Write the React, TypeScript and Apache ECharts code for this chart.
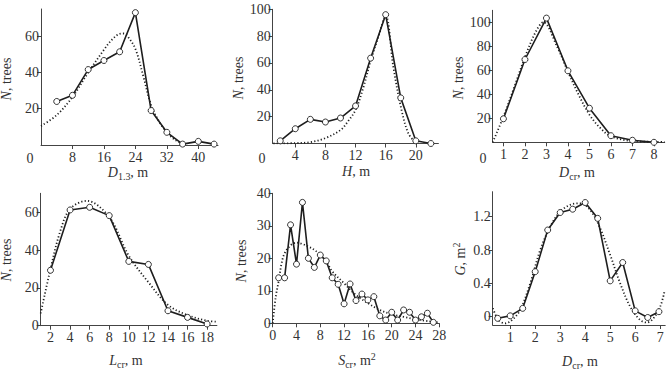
import React, { useEffect, useRef } from "react";
import * as echarts from "echarts";

// Stem diameter D1.3
const d13X = [4, 8, 12, 16, 20, 24, 28, 32, 36, 40, 44];
const d13N = [24, 27.4, 41.6, 46.6, 51.4, 73, 19, 7, 0.5, 2, 0.5];
const d13FitX = [0, 4, 8, 12, 16, 18, 20, 21, 22, 24, 26, 28, 30, 32, 34, 36];
const d13FitN = [10.5, 16.5, 26.5, 40, 52.5, 58, 61.3, 61.5, 60, 53, 38, 22, 13, 7, 3, 0.5];

// Tree height H
const hX = [2, 4, 6, 8, 10, 12, 14, 16, 18, 20, 22];
const hN = [2, 11, 18, 16, 19, 28, 63.6, 96, 34, 2, 0];
const hFitX = [1.1, 4, 6, 8, 10, 11, 12, 13, 14, 15, 16, 17, 18, 19, 20];
const hFitN = [0, 0.3, 1, 4, 10, 16.5, 25, 41, 61.5, 79, 95, 57.6, 27.6, 7.6, 0.6];

// Crown diameter Dcr (counts)
const dcrX = [1, 2, 3, 4, 5, 6, 7, 8];
const dcrN = [19.6, 69, 103.5, 59.6, 28.4, 5.5, 1.7, 0];
const dcrFitX = [0.5, 1, 1.5, 2, 2.5, 2.85, 3.5, 4, 4.5, 5, 5.5, 6, 7, 8.5];
const dcrFitN = [0, 21.5, 45.8, 71, 92, 100, 79.5, 58.8, 39.5, 23, 12, 5, 1, 0.3];

// Crown length Lcr
const lcrX = [2, 4, 6, 8, 10, 12, 14, 16, 18];
const lcrN = [29.3, 61.2, 62.6, 58.2, 34, 32.4, 7.9, 4.4, 0.9];
const lcrFitX = [1, 2, 3, 4, 5.7, 8, 10, 12, 14, 16, 18, 19];
const lcrFitN = [6.5, 30, 50, 61.7, 66, 57.4, 37, 23, 11, 5.6, 2.6, 2.1];

// Crown projection area Scr
const scrX = [1, 2, 3, 4, 5, 6, 7, 8, 9, 10, 11, 12, 13, 14, 15, 16, 17, 18, 19, 20, 21, 22, 23, 24, 25, 26, 27];
const scrN = [14, 14, 30.3, 18.2, 37.2, 20, 17.2, 21, 19.2, 14, 12, 6, 12.1, 7, 9, 7.2, 8.2, 2.3, 1, 3.4, 1, 4.1, 3.4, 1, 2, 3.1, 0.3];
const scrFitX = [0, 0.5, 1, 1.5, 2, 3, 4, 5, 6, 7, 8, 9, 10, 12, 14, 16, 18, 20, 22, 24, 26, 28];
const scrFitN = [0, 8, 13, 18.5, 21.5, 24, 24.8, 24.4, 23.6, 22.6, 21, 19, 16, 12.3, 8.7, 6.2, 4.1, 2.8, 2, 1.2, 0.7, 0.2];

// Basal area G by crown diameter
const gX = [0.5, 1, 1.5, 2, 2.5, 3, 3.5, 4, 4.5, 5, 5.5, 6, 6.5, 6.95];
const gV = [-0.02, 0.01, 0.1, 0.54, 1.04, 1.25, 1.29, 1.37, 1.18, 0.43, 0.65, 0.07, -0.01, 0.06];
const gFitX = [0.31, 0.53, 0.8, 1.07, 1.4, 1.8, 2.2, 2.6, 3.0, 3.47, 3.8, 4.2, 4.6, 5.0, 5.4, 5.8, 6.2, 6.47, 6.73, 7.0, 7.17];
const gFitV = [0.1, -0.04, -0.08, -0.04, 0.08, 0.4, 0.8, 1.08, 1.26, 1.35, 1.36, 1.28, 1.06, 0.74, 0.4, 0.12, -0.04, -0.07, -0.02, 0.12, 0.3];

// Tick label values
const d13Ticks = [8, 16, 24, 32, 40];
const hTicks = [4, 8, 12, 16, 20];
const dcrTicks = [1, 2, 3, 4, 5, 6, 7, 8];
const lcrTicks = [2, 4, 6, 8, 10, 12, 14, 16, 18];
const scrTicks = [0, 4, 8, 12, 16, 20, 24, 28];
const gXTicks = [1, 2, 3, 4, 5, 6, 7];
const nTicks60 = [20, 40, 60];
const nTicks100 = [20, 40, 60, 80, 100];
const nTicks60z = [0, 20, 40, 60];
const nTicks40 = [0, 10, 20, 30, 40];
const gYTicks = [0, 0.4, 0.8, 1.2];

const FONT = "'Liberation Serif', 'Times New Roman', serif";
const TEXT = "#333";
const AXIS = "#444";
const LINE = "#1e1e1e";

const zip = (xs: number[], ys: number[]) => xs.map((x, i) => [x, ys[i]]);

const panels = [
  { grid: { left: 41, top: 9, width: 177, height: 136 }, x: [0, 45], y: [0, 75], xt: d13Ticks, yt: nTicks60, pts: zip(d13X, d13N), fit: zip(d13FitX, d13FitN) },
  { grid: { left: 272.7, top: 9.3, width: 165.7, height: 134.2 }, x: [1, 23], y: [0, 100], xt: hTicks, yt: nTicks100, pts: zip(hX, hN), fit: zip(hFitX, hFitN) },
  { grid: { left: 492.7, top: 10.3, width: 172, height: 132 }, x: [0.5, 8.5], y: [0, 110], xt: dcrTicks, yt: nTicks100, pts: zip(dcrX, dcrN), fit: zip(dcrFitX, dcrFitN) },
  { grid: { left: 40.7, top: 193.3, width: 176.2, height: 132.4 }, x: [1, 19], y: [0, 70], xt: lcrTicks, yt: nTicks60z, pts: zip(lcrX, lcrN), fit: zip(lcrFitX, lcrFitN) },
  { grid: { left: 272.7, top: 193.3, width: 166.6, height: 130 }, x: [0, 28], y: [0, 40], xt: scrTicks, yt: nTicks40, pts: zip(scrX, scrN), fit: zip(scrFitX, scrFitN) },
  { grid: { left: 492.7, top: 191.7, width: 172.5, height: 133.3 }, x: [0.3, 7.2], y: [-0.1, 1.5], xt: gXTicks, yt: gYTicks, pts: zip(gX, gV), fit: zip(gFitX, gFitV) },
];

const rich = {
  i: { fontFamily: FONT, fontSize: 14, fontStyle: "italic", color: TEXT, lineHeight: 18 },
  n: { fontFamily: FONT, fontSize: 14, color: TEXT, lineHeight: 18 },
  sub: { fontFamily: FONT, fontSize: 10, color: TEXT, lineHeight: 18, verticalAlign: "bottom" },
  sup: { fontFamily: FONT, fontSize: 10, color: TEXT, lineHeight: 18, verticalAlign: "top" },
};

const title = (text: string, x: number, y: number, vertical = false) => ({
  type: "text",
  x,
  y,
  rotation: vertical ? Math.PI / 2 : 0,
  silent: true,
  style: { text, align: "center", verticalAlign: "middle", rich, fill: TEXT, font: `14px ${FONT}` },
});

const origin = (x: number, y: number) => ({
  type: "text",
  x,
  y,
  silent: true,
  style: { text: "0", align: "center", verticalAlign: "middle", fill: TEXT, font: `14px ${FONT}` },
});

export default function App() {
  const ref = useRef<HTMLDivElement>(null);

  useEffect(() => {
    document.body.style.margin = "0";
    if (!ref.current) return;
    const chart = echarts.init(ref.current, undefined, { renderer: "svg" });

    const axisCommon = {
      type: "value",
      axisLine: { show: true, onZero: false, lineStyle: { color: AXIS, width: 1 } },
      splitLine: { show: false },
    };

    chart.setOption({
      animation: false,
      backgroundColor: "#fff",
      grid: panels.map((p) => ({ ...p.grid, containLabel: false })),
      xAxis: panels.map((p, i) => ({
        ...axisCommon,
        gridIndex: i,
        min: p.x[0],
        max: p.x[1],
        axisTick: { show: true, length: 4, customValues: p.xt, lineStyle: { color: AXIS } },
        axisLabel: { customValues: p.xt, color: TEXT, fontSize: 14, fontFamily: FONT, margin: 5 },
      })),
      yAxis: panels.map((p, i) => ({
        ...axisCommon,
        gridIndex: i,
        min: p.y[0],
        max: p.y[1],
        axisTick: { show: true, length: 4, customValues: p.yt, lineStyle: { color: AXIS } },
        axisLabel: { customValues: p.yt, color: TEXT, fontSize: 14, fontFamily: FONT, margin: 2 },
      })),
      series: panels.flatMap((p, i) => [
        {
          type: "line",
          xAxisIndex: i,
          yAxisIndex: i,
          data: p.fit,
          smooth: 0.35,
          symbol: "none",
          lineStyle: { color: LINE, width: 1.8, type: [1.2, 2.2] },
          z: 2,
        },
        {
          type: "line",
          xAxisIndex: i,
          yAxisIndex: i,
          data: p.pts,
          symbol: "circle",
          symbolSize: 6,
          itemStyle: { color: "#fff", borderColor: LINE, borderWidth: 0.9 },
          lineStyle: { color: LINE, width: 1.6 },
          z: 3,
        },
      ]),
      graphic: [
        origin(30, 158),
        origin(262, 158),
        origin(483, 158),
        title("{i|D}{sub|1.3}{n|, m}", 128, 172),
        title("{i|H}{n|, m}", 356, 171),
        title("{i|D}{sub|cr}{n|, m}", 577, 172),
        title("{i|L}{sub|cr}{n|, m}", 126, 360),
        title("{i|S}{sub|cr}{n|, m}{sup|2}", 357, 360),
        title("{i|D}{sub|cr}{n|, m}", 580, 361),
        title("{i|N}{n|, trees}", 6, 79, true),
        title("{i|N}{n|, trees}", 238, 78, true),
        title("{i|N}{n|, trees}", 458, 78, true),
        title("{i|N}{n|, trees}", 6, 260, true),
        title("{i|N}{n|, trees}", 241, 261, true),
        title("{i|G}{n|, m}{sup|2}", 460, 259, true),
      ],
    });

    return () => chart.dispose();
  }, []);

  return <div ref={ref} style={{ width: 667, height: 369 }} />;
}
